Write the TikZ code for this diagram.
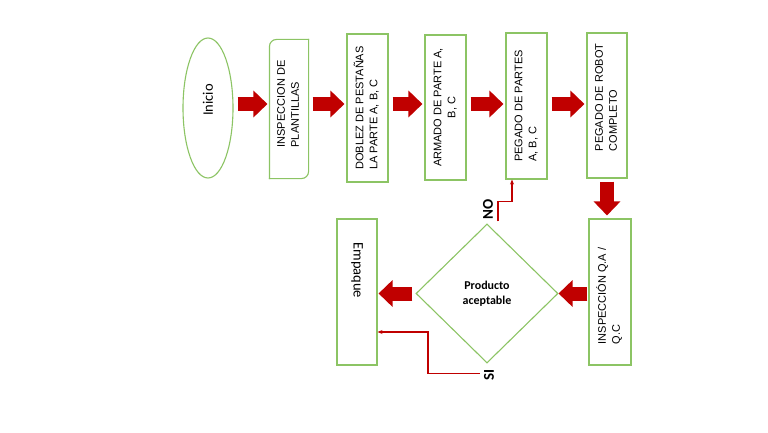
\documentclass[tikz,border=0pt]{standalone}
\usepackage{fontspec}
\setmainfont{Liberation Sans}
\newfontfamily\calibri{Carlito}
\usetikzlibrary{shapes.geometric,arrows.meta}
\definecolor{boxgreen}{RGB}{140,196,100}
\definecolor{arrowred}{RGB}{192,0,0}
\newcommand{\vl}[2][0pt]{\rotatebox{90}{\begin{tabular}{@{}l@{}}#2\end{tabular}\hspace{#1}}}
\newcommand{\vc}[1]{\rotatebox{90}{\begin{tabular}{@{}c@{}}#1\end{tabular}}}
\begin{document}
\begin{tikzpicture}[x=1pt,y=-1pt,
    box/.style={draw=boxgreen,line width=1.1pt,fill=white,inner sep=0pt,font=\fontsize{11}{14}\selectfont},
    boxline/.style={draw=boxgreen,line width=1.1pt,line cap=rect,rounded corners=7pt},
    bigarrow/.style={arrowred,line width=14pt,-{Triangle[length=14pt,width=26pt]}},
    smallarrow/.style={arrowred,line width=1.1pt,-{Stealth[length=5pt,width=4pt]}},
    lbl/.style={font=\calibri\bfseries\fontsize{15}{18}\selectfont,rotate=90,inner sep=0pt}]
    \useasboundingbox (0,0) rectangle (768,433);
    \node[box,ellipse,minimum width=50pt,minimum height=140pt,text depth=16pt,font=\calibri\fontsize{14.5}{17}\selectfont] (inicio) at (208,108) {\rotatebox{90}{Inicio}};
    \node[box,draw=none,minimum width=38pt,minimum height=138pt,text depth=10pt] (inspeccion) at (289,109) {\vl{INSPECCION DE\\PLANTILLAS}};
    \draw[boxline] (inspeccion.south west) -- (inspeccion.north west) -- (inspeccion.north east);
    \draw[boxline] (inspeccion.north east) -- (inspeccion.south east) -- (inspeccion.south west);
    \node[box,minimum width=41pt,minimum height=148pt] (doblez) at (367.5,108) {\vl{DOBLEZ DE PESTAÑAS\\LA PARTE A, B, C}};
    \node[box,minimum width=41pt,minimum height=145pt] (armado) at (445.5,107.5) {\vc{ARMADO DE PARTE A,\\B, C}};
    \node[box,minimum width=41pt,minimum height=146pt] (pegado) at (526.5,106) {\vl{PEGADO DE PARTES\\A, B, C}};
    \node[box,minimum width=40pt,minimum height=145pt,text depth=16pt] (robot) at (607,105.5) {\vl{PEGADO DE ROBOT\\COMPLETO}};
    \node[box,minimum width=42pt,minimum height=146pt] (qa) at (610,292) {\vl[8pt]{INSPECCIÓN Q.A /\\Q.C}};
    \node[box,diamond,minimum width=142pt,minimum height=139pt,align=center,font=\calibri\bfseries\fontsize{12}{15}\selectfont] (producto) at (487,293.5) {Producto\\aceptable};
    \node[box,minimum width=40pt,minimum height=146pt,text depth=99pt,font=\calibri\fontsize{14.5}{17}\selectfont] (empaque) at (357,292) {\rotatebox{-90}{Empaque}};
    \node[lbl] (no) at (488,209) {NO};
    \node[lbl] (si) at (489,375) {SI};
    \coordinate (arrowrow) at (0,104);
    \foreach \a/\b in {inicio/inspeccion,inspeccion/doblez,doblez/armado,armado/pegado,pegado/robot}
      \draw[bigarrow,shorten <=4pt,shorten >=2pt] (\a.east |- arrowrow) -- (\b.west |- arrowrow);
    \draw[bigarrow,shorten <=3pt,shorten >=3pt] (robot.south) -- (robot.south |- qa.north);
    \draw[bigarrow,shorten <=1pt] (qa.west |- producto) -- (producto.east);
    \draw[bigarrow,shorten <=3pt,shorten >=1pt] (producto.west) -- (empaque.east |- producto.west);
    \draw[smallarrow] ([xshift=11pt,yshift=2pt]producto.north) -- ++(0,-20) -| ([xshift=-14.5pt]pegado.south);
    \draw[smallarrow] ([xshift=-7pt,yshift=-10pt]producto.south) -- ++(-52,0) |- ([yshift=-40pt]empaque.east);
\end{tikzpicture}
\end{document}
